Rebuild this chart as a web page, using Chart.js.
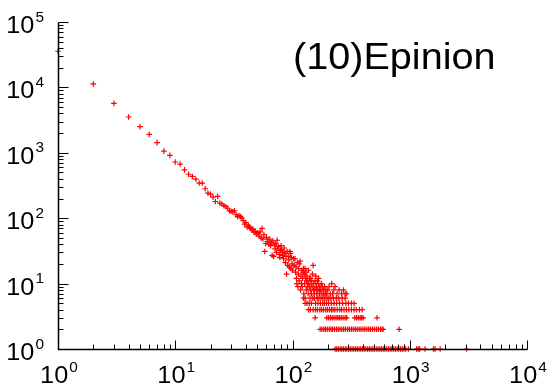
<!DOCTYPE html>
<html>
<head>
<meta charset="utf-8">
<script src="https://cdn.jsdelivr.net/npm/chart.js@4.4.0/dist/chart.umd.min.js"></script>
<style>
  html, body { margin: 0; padding: 0; background: #fff; }
</style>
</head>
<body>
<canvas id="myChart" width="547" height="386"></canvas>
<script>
// degree distribution, head of the curve (one count per degree)
var headDegree = [1, 2, 3, 4, 5, 6, 7, 8, 9, 10,
    11, 12, 13, 14, 15, 16, 17, 18, 19, 20,
    21, 22, 23, 24, 25, 26, 27, 28, 29, 30,
    31, 32, 33, 34, 35, 36, 37, 38, 39, 40,
    41, 42, 43, 44, 45, 46, 47, 48, 49, 50,
    51, 52, 53, 54, 55, 56, 57, 58, 59, 60,
    61, 62, 63, 64, 65, 66, 67, 68, 69, 70,
    71, 72, 73, 74, 75, 76, 77, 78, 79, 80,
    81, 82, 83, 84, 85, 86, 87, 88, 89, 90,
    91, 92, 93, 94, 95, 96, 97, 98, 99, 100];
var headCount = [35700, 11300, 5700, 3530, 2510, 1910, 1430, 1060, 913, 723,
    673, 548, 470, 435, 395, 345, 345, 282, 242, 233,
    210, 180, 215, 170, 165, 155, 150, 142, 130, 128,
    125, 130, 113, 106, 110, 106, 100, 92, 81, 86,
    73, 78, 73, 70, 66, 68, 61, 63, 57, 60,
    59, 53, 62, 50, 70, 48, 56, 31, 41, 51,
    44, 44, 40, 48, 38, 42, 27, 45, 26, 39,
    34, 41, 30, 46, 35, 37, 28, 25, 32, 38,
    33, 27, 30, 24, 35, 29, 21, 26, 14, 31,
    19, 26, 23, 18, 31, 29, 17, 25, 20, 16];

// scattered middle part
var midDegree = [102, 103, 105, 106, 107, 108, 109, 110, 111, 112, 113, 114, 115, 116, 117, 118, 119, 120,
    121, 122, 123, 124, 125, 126, 127, 128, 129, 130, 131, 132, 133, 134, 135, 136, 137, 138, 139, 140,
    142, 143, 144, 145, 146, 147, 148, 150, 151, 152, 153, 155, 156, 158, 159, 160, 161, 163, 164, 166,
    167, 169, 170, 171, 174, 176, 178, 180, 183, 185, 188, 190, 193, 196, 200, 205, 210, 216, 220, 225,
    231, 240, 250, 262, 272, 281, 290];
var midCount = [24, 19, 24, 15, 18, 12, 10, 21, 9, 14, 17, 11, 20, 22, 8, 13, 10, 16,
    9, 12, 15, 17, 7, 14, 10, 17, 12, 15, 8, 11, 13, 9, 11, 7, 16, 10, 9, 12,
    8, 12, 10, 7, 11, 9, 14, 19, 8, 10, 7, 8, 11, 13, 9, 9, 7, 11, 8, 10,
    12, 8, 7, 9, 8, 10, 7, 9, 8, 7, 9, 7, 8, 7, 8, 9, 7, 10, 7, 8,
    9, 7, 8, 7, 8, 7, 7];

// tail rows: degrees that have a count of 6, 5, 4, 3, 2, 1
var rowCount = [6, 5, 4, 3, 2, 1];
var rowDegree = [
    [124, 128, 141, 149, 154, 162, 168, 175, 182, 189, 197, 204, 212, 223, 236, 248, 265, 281],
    [128, 133, 139, 145, 157, 165, 173, 181, 187, 195, 203, 214, 226, 238, 252, 268, 285, 300, 318, 335],
    [137, 142, 150, 157, 163, 171, 177, 184, 192, 199, 207, 215, 222, 230, 241, 253, 262, 275, 288, 302,
     318, 335, 350, 372, 393],
    [156, 196, 203, 211, 218, 226, 235, 243, 251, 260, 270, 281, 290, 340, 352, 365, 378, 390, 400, 526],
    [172, 178, 185, 191, 198, 206, 213, 220, 228, 237, 245, 254, 263, 273, 283, 295, 306, 318, 330, 343,
     356, 370, 384, 399, 414, 430, 447, 463, 481, 500, 520, 540, 562, 580, 593, 812],
    [231, 238, 246, 255, 263, 272, 282, 291, 301, 311, 322, 333, 345, 357, 369, 382, 395, 408, 422, 437,
     452, 468, 484, 500, 518, 536, 555, 574, 594, 614, 636, 658, 681, 704, 729, 754, 780, 807, 835, 864,
     894, 925, 975, 1145, 1180, 1215, 1350, 1594, 1645, 1817, 3050]
];

var xTicks = [1, 10, 100, 1000, 10000];
var xTickExp = ['0', '1', '2', '3', '4'];
var yTicks = [1, 10, 100, 1000, 10000, 100000];
var yTickExp = ['0', '1', '2', '3', '4', '5'];
var titleText = '(10)Epinion';

var points = [];
headDegree.forEach((d, i) => points.push({x: d, y: headCount[i]}));
midDegree.forEach((d, i) => points.push({x: d, y: midCount[i]}));
rowDegree.forEach((row, r) => row.forEach(d => points.push({x: d, y: rowCount[r]})));

var FONT = "'Liberation Sans', Arial, Helvetica, sans-serif";
var STRETCH = 1.1;

// "10" with a raised exponent, drawn like gnuplot does
function drawPow(ctx, exp, left, baseline) {
    ctx.save();
    ctx.translate(left, baseline);
    ctx.scale(STRETCH, 1);
    ctx.font = '23px ' + FONT;
    ctx.fillText('10', 0, 0);
    var w = ctx.measureText('10').width;
    ctx.font = '14px ' + FONT;
    ctx.fillText(exp, w + 1, -11.5);
    ctx.restore();
}
function powWidth(ctx, exp) {
    ctx.save();
    ctx.font = '23px ' + FONT;
    var w = ctx.measureText('10').width + 1;
    ctx.font = '14px ' + FONT;
    w += ctx.measureText(exp).width;
    ctx.restore();
    return w * STRETCH;
}

var gnuplotAxes = {
    id: 'gnuplotAxes',
    afterDatasetsDraw(chart) {
        var ctx = chart.ctx;
        var xs = chart.scales.x, ys = chart.scales.y;
        var px = v => Math.round(xs.getPixelForValue(v)) + 0.5;
        var py = v => Math.round(ys.getPixelForValue(v)) + 0.5;
        var left = px(xTicks[0]), bottom = py(yTicks[0]);

        ctx.save();
        ctx.strokeStyle = '#000';

        // ticks, pointing into the plot
        ctx.lineWidth = 1;
        ctx.beginPath();
        xTicks.forEach((v, i) => {
            ctx.moveTo(px(v), bottom);
            ctx.lineTo(px(v), bottom - 9);
            if (i < xTicks.length - 1) {
                for (var m = 2; m < 10; m++) {
                    ctx.moveTo(px(v * m), bottom);
                    ctx.lineTo(px(v * m), bottom - 5);
                }
            }
        });
        yTicks.forEach((v, i) => {
            ctx.moveTo(left, py(v));
            ctx.lineTo(left + 10, py(v));
            if (i < yTicks.length - 1) {
                for (var m = 2; m < 10; m++) {
                    ctx.moveTo(left, py(v * m));
                    ctx.lineTo(left + 5, py(v * m));
                }
            }
        });
        ctx.stroke();

        // the two axis lines
        ctx.lineWidth = 1.5;
        ctx.beginPath();
        ctx.moveTo(left, py(yTicks[yTicks.length - 1]));
        ctx.lineTo(left, bottom);
        ctx.lineTo(px(xTicks[xTicks.length - 1]), bottom);
        ctx.stroke();

        ctx.fillStyle = '#000';
        ctx.textAlign = 'left';
        ctx.textBaseline = 'alphabetic';
        xTicks.forEach((v, i) => {
            var w = powWidth(ctx, xTickExp[i]);
            drawPow(ctx, xTickExp[i], xs.getPixelForValue(v) - w / 2 + 1, 383);
        });
        yTicks.forEach((v, i) => {
            var w = powWidth(ctx, yTickExp[i]);
            drawPow(ctx, yTickExp[i], 44 - w, ys.getPixelForValue(v) + 11);
        });

        ctx.save();
        ctx.translate(293, 69);
        ctx.scale(STRETCH, 1);
        ctx.font = '36px ' + FONT;
        ctx.fillText(titleText, 0, 0);
        ctx.restore();
        ctx.restore();
    }
};

var ctx = document.getElementById('myChart');
new Chart(ctx, {
    type: 'scatter',
    data: {
        datasets: [{
            data: points,
            pointStyle: 'cross',
            pointRadius: 2.8,
            pointHoverRadius: 2.8,
            borderColor: '#ff0000',
            backgroundColor: '#ff0000',
            borderWidth: 1.2,
            clip: false
        }]
    },
    options: {
        responsive: false,
        animation: false,
        devicePixelRatio: 1,
        events: [],
        layout: { padding: { left: 58, right: 20, top: 22, bottom: 37 } },
        plugins: { legend: { display: false }, tooltip: { enabled: false } },
        scales: {
            x: { type: 'logarithmic', min: 1, max: 10000, display: false },
            y: { type: 'logarithmic', min: 1, max: 100000, display: false }
        }
    },
    plugins: [gnuplotAxes]
});
</script>
</body>
</html>
